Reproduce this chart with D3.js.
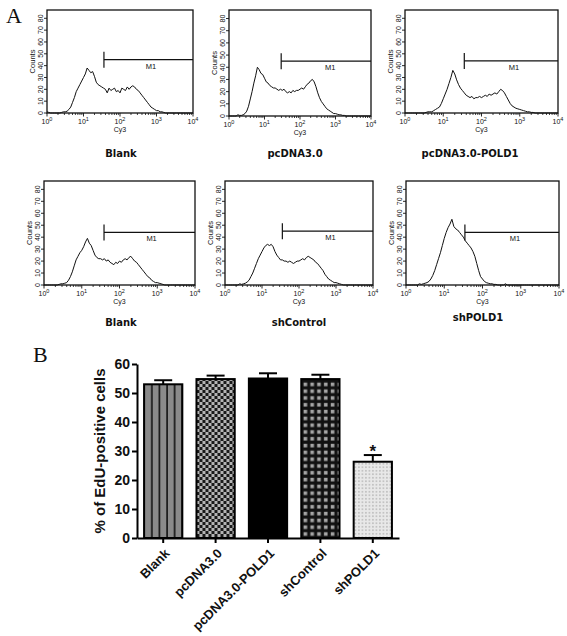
<!DOCTYPE html>
<html><head><meta charset="utf-8">
<script src="https://cdn.jsdelivr.net/npm/d3@7"></script>
<style>body{margin:0;background:#fff}</style>
</head><body>
<svg id="c" width="567" height="636"></svg>
<script>
// ---------- DATA ----------
const histLogBins = d3.range(81).map(i => i * 0.05); // log10 channel positions 10^0..10^4
const histBlankTop = [
 1,0.5,0,0,0,0,0,0,0.5,1,
 1,1.5,3,5,9,13,18,21,24,27,
 30,33,38,36,34,35,31,26,24,23,
 22,21,20,17,21,19,20,21,18,19,
 17,21,20,19,22,20,22,23,22,20,
 19,17,15,13,11,9,7,5,4,3,
 2,2,1,1,0.5,0,0,0,0,0,
 0,0,0,0,0,0,0,0,0,0,
 0];
const histPcDNA = [
 0,0,0,0,0,1,0.5,0.5,1,2,
 4,8,14,20,27,33,40,38,35,34,
 31,28,27,25,24,23,23,22,21,22,
 21,22,20,19,20,19,21,20,21,21,
 22,23,22,24,26,27,29,30,28,24,
 19,15,12,10,8,6,5,4,3,2,
 2,1.5,1,1,0.5,0.5,0,0,0,0,
 0,0,0,0,0,0,0,0,0,0,
 0];
const histPOLD1 = [
 0,0,0,0,0,0,0,0,0,0,
 0,0.5,1,1,1,2,3,4,5,8,
 12,16,20,25,30,36,33,28,24,21,
 19,17,15,14,13,14,12,13,13,14,
 13,14,15,14,16,15,16,17,16,18,
 20,19,17,14,11,8,6,5,4,3.5,
 3,2.5,2,1.5,1,1,0.5,0.5,0,0,
 0,0,0,0,0,0,0,0,0,0,
 0];
const histBlankBottom = [
 0,0,0,0,0,0,0,0,0.5,1,
 1,1.5,2,4,7,11,16,21,24,27,
 29,32,36,39,35,33,29,25,23,22,
 22,21,22,20,21,19,18,17,19,18,
 20,19,21,22,21,23,24,22,20,19,
 17,15,13,11,9,7,6,4,3,2,
 2,1.5,1,0.5,0,0,0,0,0,0,
 0,0,0,0,0,0,0,0,0,0,
 0];
const histShControl = [
 0,0,0,0,0,0,0,0,1,0.5,
 1,1.5,2.5,4,7,10,14,18,22,25,
 28,31,33,34,33,34,32,28,25,23,
 21,21,20,20,19,20,19,18,19,20,
 20,21,22,21,23,24,23,22,21,19,
 18,16,14,12,9,7,5,4,3,2,
 2,1.5,1,0.5,0,0,0,0,0,0,
 0,0,0,0,0,0,0,0,0,0,
 0];
const histShPOLD1 = [
 0,0,0,0,0,0,0,1,0.5,1,
 1.5,2,3,5,8,12,17,22,27,33,
 39,44,48,51,55,49,47,46,44,42,
 40,37,35,33,31,28,24,18,12,7,
 5,3,2,1.5,1,1,0.5,0.5,0,0,
 0,0,1,0,0,0,0,0,0,0,
 0,0,0,0,0,0,0,0,0,0,
 0,0,0,0,0,0,0,0,0,0,
 0];
const panelTitles = ["Blank","pcDNA3.0","pcDNA3.0-POLD1","Blank","shControl","shPOLD1"];
const markerLog = [1.56,1.47,1.55,1.59,1.55,1.54];
const markerCount = [45,45,44,44,45,44];
const countTicks = [0,10,20,30,40,50,60,70,80];
const decadeTicks = [1,10,100,1000,10000];

const barCategories = ["Blank","pcDNA3.0","pcDNA3.0-POLD1","shControl","shPOLD1"];
const barMeans = [53.0,54.8,55.0,54.8,26.3];
const barErrors = [1.4,1.2,1.8,1.5,2.3];
const barTicks = [0,10,20,30,40,50,60];
const significant = [false,false,false,false,true];

// ---------- LAYOUT ----------
const svg = d3.select("#c");
const ink = "#111";
const panels = [
 {x0:47,x1:193,y0:10,y1:113,tx:121,ty:157,data:histBlankTop},
 {x0:229,x1:371,y0:10,y1:116,tx:295,ty:157,data:histPcDNA},
 {x0:405,x1:558,y0:10,y1:113,tx:470,ty:157,data:histPOLD1},
 {x0:44,x1:195,y0:181,y1:285,tx:121,ty:326,data:histBlankBottom},
 {x0:225,x1:373,y0:181,y1:285,tx:299,ty:326,data:histShControl},
 {x0:406,x1:559,y0:181,y1:285,tx:478,ty:321,data:histShPOLD1}
];

svg.append("text").attr("x",6).attr("y",23).text("A")
  .attr("font-family","Liberation Serif").attr("font-size",22).attr("fill",ink);
svg.append("text").attr("x",33).attr("y",362).text("B")
  .attr("font-family","Liberation Serif").attr("font-size",22).attr("fill",ink);

panels.forEach((p,k) => {
  const g = svg.append("g");
  const x = d3.scaleLog().domain([1,1e4]).range([p.x0,p.x1]);
  const y = d3.scaleLinear().domain([0,87]).range([p.y1,p.y0]);
  const font = "Liberation Sans";
  // minor/major ticks on x
  const minor = [];
  for (let e=0;e<4;e++) for (let m=2;m<=9;m++) minor.push(m*Math.pow(10,e));
  g.selectAll(".mn").data(minor).join("line")
    .attr("x1",d=>x(d)).attr("x2",d=>x(d)).attr("y1",p.y1).attr("y2",p.y1+2)
    .attr("stroke",ink).attr("stroke-width",0.8);
  g.selectAll(".mj").data(decadeTicks).join("line")
    .attr("x1",d=>x(d)).attr("x2",d=>x(d)).attr("y1",p.y1).attr("y2",p.y1+3.5)
    .attr("stroke",ink).attr("stroke-width",0.9);
  const lbl = g.selectAll(".xl").data(decadeTicks).join("text")
    .attr("x",d=>x(d)).attr("y",p.y1+11).attr("text-anchor","middle")
    .attr("font-family",font).attr("font-size",7).attr("fill",ink);
  lbl.append("tspan").text("10");
  lbl.append("tspan").attr("dy",-3.5).attr("font-size",5.5).text(d=>Math.round(Math.log10(d)));
  g.append("text").attr("x",x(100)).attr("y",p.y1+19).attr("text-anchor","middle")
    .attr("font-family",font).attr("font-size",7).attr("fill",ink).text("Cy3");
  // y ticks
  g.selectAll(".yt").data(countTicks).join("line")
    .attr("x1",p.x0-3).attr("x2",p.x0).attr("y1",d=>y(d)).attr("y2",d=>y(d))
    .attr("stroke",ink).attr("stroke-width",0.9);
  g.selectAll(".yl").data(countTicks).join("text")
    .attr("transform",d=>`translate(${p.x0-4},${y(d)}) rotate(-90)`)
    .attr("text-anchor","middle").attr("font-family",font).attr("font-size",7)
    .attr("fill",ink).text(d=>d);
  g.append("text").attr("transform",`translate(${p.x0-12.5},${(p.y0+p.y1)/2}) rotate(-90)`)
    .attr("text-anchor","middle").attr("font-family",font).attr("font-size",7.5)
    .attr("fill",ink).text("Counts");
  // histogram
  const line = d3.line().x((d,i)=>x(Math.pow(10,histLogBins[i]))).y(d=>y(d));
  g.append("path").datum(p.data).attr("d",line).attr("fill","none")
    .attr("stroke",ink).attr("stroke-width",1).attr("stroke-linejoin","round");
  // frame
  g.append("rect").attr("x",p.x0).attr("y",p.y0).attr("width",p.x1-p.x0).attr("height",p.y1-p.y0)
    .attr("fill","none").attr("stroke",ink).attr("stroke-width",1.3);
  // marker M1
  const mx = x(Math.pow(10,markerLog[k])), my = y(markerCount[k]);
  g.append("line").attr("x1",mx).attr("x2",p.x1).attr("y1",my).attr("y2",my)
    .attr("stroke",ink).attr("stroke-width",1.2);
  g.append("line").attr("x1",mx).attr("x2",mx).attr("y1",my-8).attr("y2",my+8)
    .attr("stroke",ink).attr("stroke-width",1.2);
  g.append("text").attr("x",x(Math.pow(10,2.85))).attr("y",my+9).attr("text-anchor","middle")
    .attr("font-family",font).attr("font-size",7.5).attr("fill",ink).text("M1");
  // title
  g.append("text").attr("x",p.tx).attr("y",p.ty).attr("text-anchor","middle")
    .attr("font-family","DejaVu Sans").attr("font-weight","bold").attr("font-size",10)
    .attr("fill",ink).text(panelTitles[k]);
});

// ---------- BAR CHART ----------
const bx = d3.scaleBand().domain(barCategories).range([137,399]).paddingInner(0.27).paddingOuter(0.135);
const by = d3.scaleLinear().domain([0,60]).range([538,364]);
const defs = svg.append("defs");
const bw = bx.bandwidth();
function pat(id, w, h, ox, build){
  const p = defs.append("pattern").attr("id",id).attr("patternUnits","userSpaceOnUse")
    .attr("width",w).attr("height",h).attr("x",ox).attr("y",0);
  build(p);
}
pat("p0", 7.6, 10, bx("Blank")+1, p => {
  p.append("rect").attr("width",7.6).attr("height",10).attr("fill","#8a8a8a");
  p.append("rect").attr("x",6).attr("width",2).attr("height",10).attr("fill","#111");
});
pat("p1", 6, 6, bx("pcDNA3.0"), p => {
  p.append("rect").attr("width",6).attr("height",6).attr("fill","#b4b4b4");
  p.append("rect").attr("width",3).attr("height",3).attr("fill","#1a1a1a");
  p.append("rect").attr("x",3).attr("y",3).attr("width",3).attr("height",3).attr("fill","#1a1a1a");
});
pat("p2", 6, 6, 0, p => {
  p.append("rect").attr("width",6).attr("height",6).attr("fill","#000");
});
pat("p3", 6.8, 6.8, bx("shControl")+0.5, p => {
  p.append("rect").attr("width",6.8).attr("height",6.8).attr("fill","#111");
  p.append("rect").attr("x",1.8).attr("y",1.8).attr("width",3.6).attr("height",3.6).attr("fill","#a5a5a5");
});
pat("p4", 3.5, 3.5, bx("shPOLD1"), p => {
  p.append("rect").attr("width",3.5).attr("height",3.5).attr("fill","#e8e8e8");
  p.append("rect").attr("x",1.2).attr("y",1.2).attr("width",1.1).attr("height",1.1).attr("fill","#8c8c8c");
});

const bars = svg.append("g");
bars.selectAll("rect").data(barCategories).join("rect")
  .attr("x",d=>bx(d)).attr("y",(d,i)=>by(barMeans[i]))
  .attr("width",bw).attr("height",(d,i)=>by(0)-by(barMeans[i]))
  .attr("fill",(d,i)=>`url(#p${i})`).attr("stroke","#000").attr("stroke-width",2);
const eb = svg.append("g").attr("stroke","#000").attr("stroke-width",2);
barCategories.forEach((c,i) => {
  const cx = bx(c)+bw/2, top = by(barMeans[i]+barErrors[i]);
  eb.append("line").attr("x1",cx).attr("x2",cx).attr("y1",by(barMeans[i])).attr("y2",top);
  eb.append("line").attr("x1",cx-9).attr("x2",cx+9).attr("y1",top).attr("y2",top);
  if (significant[i]) svg.append("text").attr("x",cx).attr("y",top+2).attr("text-anchor","middle")
    .attr("font-family","Liberation Sans").attr("font-weight","bold").attr("font-size",17)
    .attr("fill",ink).text("*");
});

const yAx = svg.append("g").attr("transform","translate(137,0)")
  .call(d3.axisLeft(by).tickValues(barTicks).tickSize(5).tickSizeOuter(0).tickPadding(2));
const xAx = svg.append("g").attr("transform","translate(0,538)")
  .call(d3.axisBottom(bx).tickSize(5).tickSizeOuter(0));
[yAx,xAx].forEach(a => {
  a.select(".domain").attr("stroke","#000").attr("stroke-width",2);
  a.selectAll(".tick line").attr("stroke","#000").attr("stroke-width",2);
  a.selectAll("text").attr("font-family","Liberation Sans").attr("font-weight","bold")
    .attr("fill",ink);
});
yAx.selectAll("text").attr("font-size",14);
xAx.selectAll("text").attr("font-size",13).attr("text-anchor","end")
  .attr("y",0).attr("dy","0.35em").attr("transform","translate(4,13) rotate(-45)");
svg.append("text").attr("transform","translate(105,451) rotate(-90)")
  .attr("text-anchor","middle").attr("font-family","Liberation Sans").attr("font-weight","bold")
  .attr("font-size",15).attr("fill",ink).text("% of EdU-positive cells");
</script></body></html>
